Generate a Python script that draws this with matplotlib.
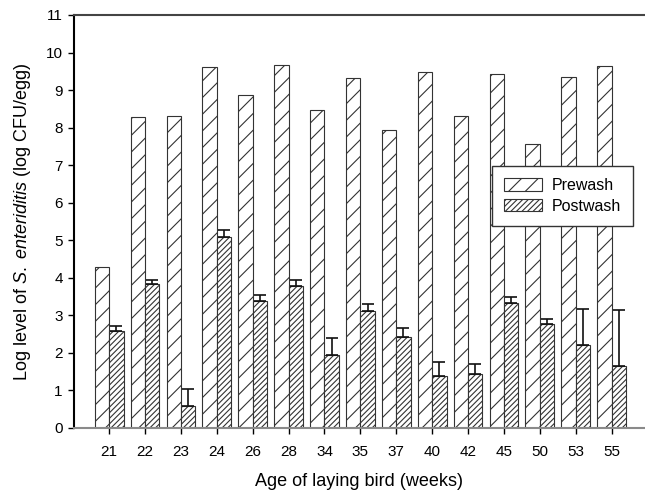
import numpy as np
import matplotlib.pyplot as plt

plt.rcParams['font.family'] = ['Liberation Sans', 'DejaVu Sans']
plt.rcParams['mathtext.fontset'] = 'custom'
plt.rcParams['mathtext.rm'] = 'Liberation Sans'
plt.rcParams['mathtext.it'] = 'Liberation Sans:italic'
plt.rcParams['hatch.linewidth'] = 0.8
plt.rcParams['hatch.color'] = '#222222'

ages = ['21', '22', '23', '24', '26', '28', '34', '35', '37', '40', '42', '45', '50', '53', '55']
prewash = [4.28, 8.28, 8.32, 9.62, 8.88, 9.68, 8.47, 9.33, 7.93, 9.47, 8.32, 9.43, 7.57, 9.36, 9.63]
postwash = [2.59, 3.83, 0.59, 5.08, 3.37, 3.78, 1.95, 3.11, 2.41, 1.38, 1.43, 3.33, 2.76, 2.21, 1.66]
postwash_err = [0.13, 0.11, 0.46, 0.20, 0.18, 0.16, 0.44, 0.18, 0.26, 0.37, 0.28, 0.15, 0.15, 0.97, 1.47]

x = np.arange(len(ages))
w = 0.4

fig = plt.figure(figsize=(6.45, 4.98), dpi=100)
ax = fig.add_axes([0.1147, 0.1406, 0.8853, 0.8293])

ax.bar(x - w / 2, prewash, w, color='white', edgecolor='#333333', linewidth=0.8,
       hatch='//', label='Prewash')
ax.bar(x + w / 2, postwash, w, color='white', edgecolor='#333333', linewidth=0.8,
       hatch='//////', label='Postwash')
ax.errorbar(x + w / 2, postwash, yerr=[np.zeros(len(x)), postwash_err], fmt='none',
            ecolor='#111111', elinewidth=1.2, capsize=4, capthick=1.2)

ax.set_xlim(-0.98, 14.93)
ax.set_ylim(0, 11)
ax.set_yticks(range(0, 12))
ax.set_xticks(x)
ax.set_xticklabels(ages)
ax.tick_params(axis='both', direction='out', length=4.5, width=1, labelsize=11)
ax.tick_params(axis='x', pad=8)

ax.spines['right'].set_visible(False)
ax.spines['left'].set_linewidth(1.5)
ax.spines['left'].set_color('black')
ax.spines['top'].set_linewidth(1.5)
ax.spines['top'].set_color('#444444')
ax.spines['bottom'].set_linewidth(1.5)
ax.spines['bottom'].set_color('#8a8a8a')

ax.set_xlabel('Age of laying bird (weeks)', fontsize=13, labelpad=10)
ax.set_ylabel(r'Log level of $S.\ enteriditis$ (log CFU/egg)', fontsize=13, labelpad=9)

leg = ax.legend(loc='upper left', bbox_to_anchor=(0.732, 0.634), borderaxespad=0,
                fontsize=11.5, fancybox=False, framealpha=1, edgecolor='#333333',
                handlelength=2.4, handleheight=0.8, handletextpad=0.6,
                borderpad=0.75, labelspacing=0.35)
leg.get_frame().set_linewidth(1.0)

fig.savefig('out.png', dpi=100)
